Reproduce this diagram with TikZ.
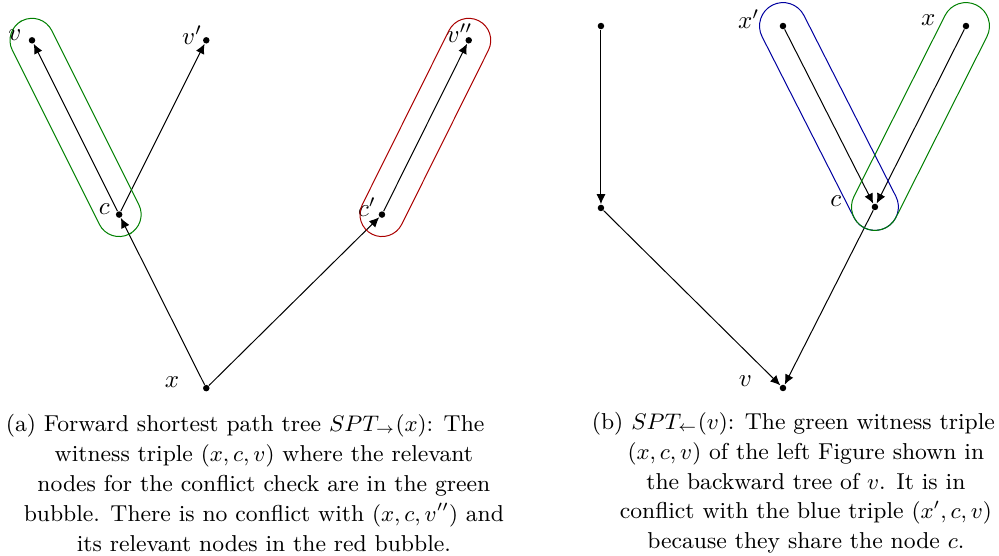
\documentclass[tikz,border=0pt]{standalone}
\usepackage{amsmath}
\definecolor{bubgreen}{RGB}{0,128,0}
\definecolor{bubred}{RGB}{170,0,0}
\definecolor{bubblue}{RGB}{0,0,160}
\usetikzlibrary{arrows.meta,positioning,calc}

% stadium round the edge #3 -- #4, radius #1, colour #2
\newcommand{\bubble}[4][0.31cm]{%
  \path let \p1=($(#4)-(#3)$), \n1={atan2(\y1,\x1)}, \n2={veclen(\x1,\y1)} in
    ($(#3)!0.5!(#4)$) node[draw=#2,rotate=\n1,inner sep=0pt,
      minimum width={\n2+2*#1},minimum height={2*#1},rounded corners=#1] (#3#4bub) {};%
}

\begin{document}
\begin{tikzpicture}[
  dot/.style={circle,fill=black,inner sep=0pt,minimum size=2.6pt},
  lbl/.style={inner sep=0pt,font=\normalsize},
  arr/.style={-{Latex[length=4pt,width=3.6pt]},thin,black},
  capt/.style={align=center,font=\fontsize{9.2}{12}\selectfont}
]
  \useasboundingbox (0,0) rectangle (14.045,7.817);

  % (a) forward tree of x
  \node[dot] (x)  at (2.9,2.36)  {};
  \node[dot] (c)  at (1.675,4.8) {};
  \node[dot] (v)  at (0.45,7.25) {};
  \node[dot] (v1) at (2.9,7.25)  {};
  \node[dot] (c1) at (5.37,4.8)  {};
  \node[dot] (v2) at (6.59,7.25) {};

  \node[lbl] (lx)  at ($(x)+(-0.48,0.08)$)  {$x$};
  \node[lbl] (lc)  at ($(c)+(-0.21,0.07)$)  {$c$};
  \node[lbl] (lv)  at ($(v)+(-0.24,0.07)$)  {$v$};
  \node[lbl] (lv1) at ($(v1)+(-0.2,0.07)$)  {$v'$};
  \node[lbl] (lc1) at ($(c1)+(-0.21,0.1)$)  {$c'$};
  \node[lbl] (lv2) at ($(v2)+(-0.13,0.1)$)  {$v''$};

  \draw[arr] (x) -- (c);
  \draw[arr] (c) -- (v);
  \draw[arr] (c) -- (v1);
  \draw[arr] (x) -- (c1);
  \draw[arr] (c1) -- (v2);

  \bubble{bubgreen}{c}{v}
  \bubble{bubred}{c1}{v2}

  % (b) backward tree of v
  \node[dot] (bv)  at (11.008,2.362) {};
  \node[dot] (bc)  at (12.301,4.907) {};
  \node[dot] (bx1) at (11.008,7.451) {};
  \node[dot] (bx)  at (13.581,7.451) {};
  \node[dot] (bu)  at (8.449,7.451)  {};
  \node[dot] (bw)  at (8.449,4.893)  {};

  \node[lbl] (lbv)  at ($(bv)+(-0.53,0.1)$)   {$v$};
  \node[lbl] (lbc)  at ($(bc)+(-0.55,0.08)$)  {$c$};
  \node[lbl] (lbx1) at ($(bx1)+(-0.48,0.1)$)  {$x'$};
  \node[lbl] (lbx)  at ($(bx)+(-0.53,0.08)$)  {$x$};

  \draw[arr] (bu) -- (bw);
  \draw[arr] (bw) -- (bv);
  \draw[arr] (bc) -- (bv);
  \draw[arr] (bx1) -- (bc);
  \draw[arr] (bx) -- (bc);

  \bubble[0.33cm]{bubblue}{bx1}{bc}
  \bubble[0.33cm]{bubgreen}{bx}{bc}

  % captions
  \node[capt] (capa) at (3.71,1.03) {%
    (a) Forward shortest path tree $SPT_{\rightarrow}(x)$: The\hspace*{15pt}\\
    witness triple $(x,c,v)$ where the relevant\\
    nodes for the conflict check are in the green\\
    bubble. There is no conflict with $(x,c,v'')$ and\\
    its relevant nodes in the red bubble.};
  \node[capt] (capb) at (11.33,1.03) {%
    (b) $SPT_{\leftarrow}(v)$: The green witness triple\hspace*{10pt}\\
    $(x,c,v)$ of the left Figure shown in\\
    the backward tree of $v$. It is in\\
    conflict with the blue triple $(x',c,v)$\\
    because they share the node $c$.};
\end{tikzpicture}
\end{document}
